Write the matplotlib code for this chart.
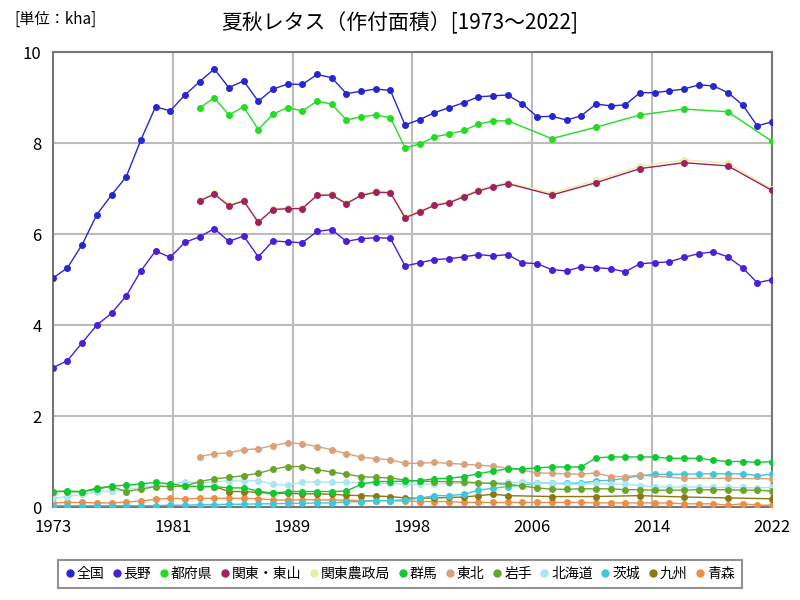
import matplotlib.pyplot as plt
from matplotlib.lines import Line2D

plt.rcParams['font.family'] = ['Noto Sans CJK JP', 'DejaVu Sans']

years = list(range(1973, 2023))
years_83 = list(range(1983, 2023))
# sparse series: annual to 2004, then every 3 years
years_sp = list(range(1983, 2005)) + [2007, 2010, 2013, 2016, 2019, 2022]
years_tohoku = list(range(1983, 2014)) + [2016, 2019, 2022]

zenkoku = [5.03, 5.26, 5.77, 6.43, 6.86, 7.26, 8.07, 8.80, 8.71, 9.06,
           9.35, 9.63, 9.22, 9.37, 8.92, 9.19, 9.30, 9.29, 9.51, 9.44,
           9.09, 9.14, 9.19, 9.16, 8.40, 8.52, 8.67, 8.78, 8.89, 9.02,
           9.04, 9.06, 8.86, 8.58, 8.59, 8.51, 8.60, 8.86, 8.82, 8.84,
           9.11, 9.11, 9.15, 9.19, 9.28, 9.26, 9.11, 8.84, 8.38, 8.47]
nagano = [3.06, 3.22, 3.61, 4.00, 4.26, 4.64, 5.19, 5.63, 5.49, 5.82,
          5.94, 6.12, 5.84, 5.96, 5.50, 5.85, 5.83, 5.81, 6.06, 6.10,
          5.84, 5.90, 5.92, 5.91, 5.30, 5.37, 5.44, 5.46, 5.50, 5.55,
          5.52, 5.55, 5.37, 5.35, 5.22, 5.19, 5.28, 5.26, 5.24, 5.17,
          5.35, 5.37, 5.39, 5.49, 5.57, 5.61, 5.50, 5.26, 4.93, 5.00]
tofuken = [8.77, 9.00, 8.62, 8.80, 8.30, 8.64, 8.78, 8.71, 8.92, 8.86,
           8.51, 8.58, 8.62, 8.56, 7.90, 7.98, 8.14, 8.20, 8.28, 8.42,
           8.49, 8.49, 8.10, 8.35, 8.62, 8.75, 8.69, 8.04]
kanto_tosan = [6.73, 6.88, 6.62, 6.73, 6.26, 6.54, 6.56, 6.56, 6.85, 6.86,
               6.67, 6.85, 6.92, 6.91, 6.36, 6.49, 6.63, 6.69, 6.82, 6.95,
               7.04, 7.11, 6.86, 7.13, 7.44, 7.57, 7.50, 6.96]
kanto_nosei = [6.75, 6.90, 6.64, 6.75, 6.28, 6.56, 6.58, 6.58, 6.87, 6.88,
               6.69, 6.87, 6.94, 6.93, 6.38, 6.51, 6.65, 6.71, 6.84, 6.97,
               7.06, 7.13, 6.90, 7.18, 7.49, 7.63, 7.56, 6.99]
gunma = [0.34, 0.35, 0.34, 0.39, 0.46, 0.48, 0.51, 0.54, 0.51, 0.46,
         0.45, 0.45, 0.42, 0.42, 0.35, 0.30, 0.34, 0.34, 0.34, 0.34,
         0.35, 0.50, 0.56, 0.56, 0.57, 0.58, 0.62, 0.63, 0.67, 0.73,
         0.79, 0.84, 0.84, 0.86, 0.88, 0.88, 0.88, 1.08, 1.10, 1.10,
         1.10, 1.10, 1.07, 1.07, 1.07, 1.03, 1.00, 1.00, 0.98, 1.00]
tohoku = [1.11, 1.17, 1.19, 1.26, 1.28, 1.35, 1.41, 1.39, 1.33, 1.26,
          1.17, 1.10, 1.06, 1.04, 0.96, 0.96, 0.98, 0.96, 0.94, 0.92,
          0.90, 0.85, 0.81, 0.75, 0.74, 0.73, 0.72, 0.75, 0.67, 0.67,
          0.70, 0.63, 0.63, 0.62]
iwate = [0.34, 0.34, 0.33, 0.42, 0.45, 0.34, 0.39, 0.45, 0.45, 0.46,
         0.56, 0.62, 0.65, 0.69, 0.74, 0.83, 0.89, 0.89, 0.82, 0.77,
         0.72, 0.67, 0.65, 0.64, 0.59, 0.57, 0.56, 0.56, 0.55, 0.53,
         0.52, 0.50, 0.46, 0.42, 0.39, 0.39, 0.40, 0.40, 0.40, 0.38,
         0.38, 0.37, 0.37, 0.37, 0.38, 0.38, 0.38, 0.37, 0.37, 0.35]
hokkaido = [0.19, 0.23, 0.28, 0.33, 0.35, 0.38, 0.43, 0.47, 0.49, 0.56,
            0.52, 0.55, 0.58, 0.57, 0.58, 0.50, 0.48, 0.54, 0.56, 0.54,
            0.54, 0.54, 0.52, 0.52, 0.50, 0.50, 0.51, 0.52, 0.52, 0.53,
            0.53, 0.54, 0.54, 0.53, 0.52, 0.50, 0.50, 0.52, 0.50, 0.50,
            0.47, 0.44, 0.44, 0.44, 0.44, 0.43, 0.43, 0.43, 0.42, 0.43]
ibaraki = [0.03, 0.03, 0.03, 0.03, 0.03, 0.03, 0.03, 0.03, 0.04, 0.04,
           0.05, 0.05, 0.06, 0.06, 0.07, 0.07, 0.08, 0.08, 0.09, 0.09,
           0.11, 0.12, 0.14, 0.14, 0.16, 0.19, 0.25, 0.25, 0.28, 0.37,
           0.41, 0.45, 0.48, 0.53, 0.52, 0.52, 0.53, 0.57, 0.59, 0.63,
           0.69, 0.72, 0.72, 0.72, 0.73, 0.73, 0.73, 0.73, 0.69, 0.72]
kyushu = [0.45, 0.45, 0.34, 0.34, 0.32, 0.30, 0.30, 0.29, 0.29, 0.28,
          0.26, 0.25, 0.24, 0.23, 0.20, 0.19, 0.20, 0.21, 0.22, 0.25,
          0.28, 0.25, 0.23, 0.23, 0.25, 0.22, 0.20, 0.18]
aomori = [0.09, 0.10, 0.10, 0.09, 0.09, 0.11, 0.13, 0.17, 0.19, 0.18,
          0.19, 0.19, 0.19, 0.19, 0.18, 0.16, 0.15, 0.16, 0.16, 0.15,
          0.15, 0.14, 0.14, 0.14, 0.13, 0.12, 0.12, 0.12, 0.10, 0.10,
          0.10, 0.10, 0.10, 0.10, 0.10, 0.10, 0.10, 0.09, 0.09, 0.09,
          0.09, 0.09, 0.09, 0.07, 0.07, 0.07, 0.04, 0.07, 0.04, 0.04]

series = [
    ('全国', years, zenkoku, '#2727d2'),
    ('長野', years, nagano, '#4a1fd6'),
    ('都府県', years_sp, tofuken, '#22dd22'),
    ('関東・東山', years_sp, kanto_tosan, '#a3205c'),
    ('関東農政局', years_sp, kanto_nosei, '#e6efa6'),
    ('群馬', years, gunma, '#10c830'),
    ('東北', years_tohoku, tohoku, '#d9a27a'),
    ('岩手', years, iwate, '#6aa52a'),
    ('北海道', years, hokkaido, '#a8e6f0'),
    ('茨城', years, ibaraki, '#3ec8dc'),
    ('九州', years_sp, kyushu, '#8a7a12'),
    ('青森', years, aomori, '#e8904a'),
]

fig = plt.figure(figsize=(8, 6), dpi=100)
ax = fig.add_axes([0.066, 0.155, 0.899, 0.758])

# draw back to front so 全国 ends up on top
for name, xs, ys, c in reversed(series):
    ax.plot(xs, ys, color=c, lw=1, marker='o', ms=4, zorder=3)

ax.set_xlim(1973, 2022)
ax.set_ylim(0, 10)
step = 49 / 6
xt = [1973 + i * step for i in range(7)]
ax.set_xticks(xt)
ax.set_xticklabels([str(int(round(v + 0.01))) for v in xt], fontsize=12)
ax.set_yticks([0, 2, 4, 6, 8, 10])
ax.set_yticklabels(['0', '2', '4', '6', '8', '10'], fontsize=12)
ax.tick_params(axis='x', length=0, pad=9)
ax.tick_params(axis='y', length=0, pad=8)
ax.grid(True, color='#bbbbbb', lw=1.5, zorder=0)
for s in ax.spines.values():
    s.set_color('#777777')
    s.set_linewidth(1.5)

fig.text(0.5, 0.962, '夏秋レタス（作付面積）[1973～2022]', ha='center', va='center', fontsize=15)
fig.text(0.018, 0.968, '[単位：kha]', ha='left', va='center', fontsize=11)

handles = [Line2D([], [], ls='', marker='o', ms=5, color=c) for _, _, _, c in series]
labels = [n for n, _, _, _ in series]
leg = fig.legend(handles, labels, loc='center', bbox_to_anchor=(0.5, 0.044), ncol=12,
                 fontsize=10, handlelength=0.6, handletextpad=0.2, columnspacing=0.6,
                 frameon=True, fancybox=False, borderpad=0.5)
leg.get_frame().set_edgecolor('#777777')
leg.get_frame().set_linewidth(1.5)

fig.savefig('out.png', dpi=100)
